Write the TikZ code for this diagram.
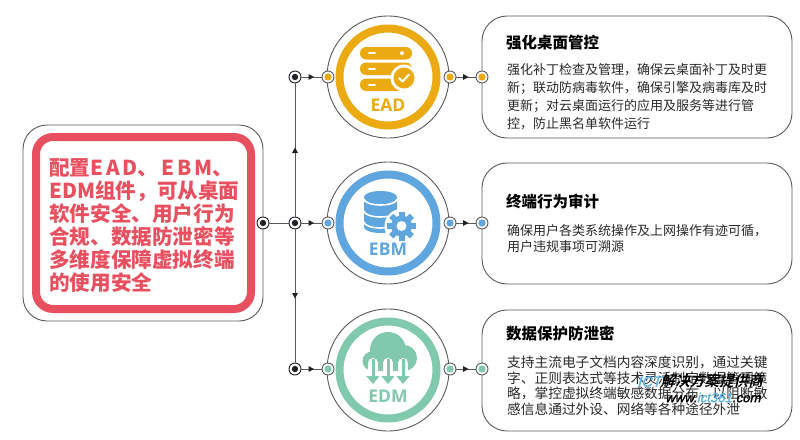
\documentclass[tikz,border=0pt]{standalone}
\usepackage{fontspec}
\setmainfont{Noto Sans CJK SC}
\newfontfamily\iconfont{Open Sans}
\newfontfamily\slantfont[FakeSlant=0.25,FakeBold=1.5]{Liberation Sans}
\newfontfamily\cjkslant[FakeSlant=0.25]{Noto Sans CJK SC Bold}
\usetikzlibrary{arrows.meta,decorations.markings}
\definecolor{outl}{HTML}{5A5A5E}
\definecolor{darkdot}{HTML}{222226}
\definecolor{bodytext}{HTML}{2A2A2A}
\definecolor{cred}{HTML}{E8505F}
\definecolor{cead}{HTML}{EBAA12}
\definecolor{cebm}{HTML}{5FA6DF}
\definecolor{cedm}{HTML}{80C9AD}
\definecolor{wmblue}{HTML}{5FB4E6}
\tikzset{
  x=1pt,y=-1pt,
  wire/.style={draw=outl,line width=0.9pt},
  midarrow/.style={wire,postaction={decorate},decoration={markings,mark=at position 0.5 with {\fill[darkdot] (2.5pt,0)--(-3pt,-3pt)--(-3pt,3pt)--cycle;}}},
  junction/.style={circle,draw=darkdot,line width=0.9pt,fill=white,minimum size=12pt,inner sep=0pt,
    path picture={\fill[darkdot] (path picture bounding box.center) circle (3.2pt);}},
  port/.style={circle,draw=outl,line width=0.9pt,fill=white,minimum size=12pt,inner sep=0pt,
    path picture={\fill[#1] (path picture bounding box.center) circle (3.6pt);}},
  badge/.style={circle,draw=outl,line width=0.9pt,fill=white,minimum size=122pt,inner sep=0pt},
  ring/.style={draw=#1,line width=8pt,fill=white},
  card/.style={draw=outl,line width=0.9pt,fill=white,rounded corners=25pt},
  cardtitle/.style={anchor=west,font=\fontsize{15.5}{18}\selectfont\bfseries,inner sep=0pt,text=black},
  cardbody/.style={anchor=north west,align=left,inner sep=0pt,text=bodytext},
  iconlabel/.style={font=\iconfont\fontsize{#1}{20}\selectfont\bfseries,inner sep=0pt},
}
\begin{document}
\begin{tikzpicture}
\useasboundingbox[fill=white] (0,0) rectangle (800,439);

% left panel
\draw[card,rounded corners=24pt] (23,125) rectangle (263,321);
\draw[draw=cred,line width=8pt,rounded corners=17pt,fill=white] (36,137) rectangle (251,309);
\node[anchor=north west,align=left,inner sep=0pt,text=cred,font=\fontsize{20.6}{22.9}\selectfont\bfseries] (lead) at (49,158.5)
 {配置E\hspace{3pt}A\hspace{3pt}D、\hspace{3pt}E\hspace{3pt}B\hspace{3pt}M、\\
  EDM组件，可从桌面\\软件安全、用户行为\\合规、数据防泄密等\\多维度保障虚拟终端\\的使用安全};

% cards
\draw[card] (482,16) rectangle (792,138);
\draw[card] (482,163) rectangle (792,284);
\draw[card] (482,310) rectangle (792,431);
\node[cardtitle] (t1) at (506,43) {强化桌面管控};
\node[cardtitle] (t2) at (506,202) {终端行为审计};
\node[cardtitle] (t3) at (506,334) {数据保护防泄密};
\node[cardbody,font=\fontsize{13}{18}\selectfont] (b1) at (507,63.5)
 {强化补丁检查及管理，确保云桌面补丁及时更\\新；联动防病毒软件，确保引擎及病毒库及时\\更新；对云桌面运行的应用及服务等进行管\\控，防止黑名单软件运行};
\node[cardbody,font=\fontsize{13}{16}\selectfont] (b2) at (507,224.5)
 {确保用户各类系统操作及上网操作有迹可循，\\用户违规事项可溯源};
\node[cardbody,font=\fontsize{13.7}{15.4}\selectfont] (b3) at (507,356)
 {支持主流电子文档内容深度识别，通过关键\\字、正则表达式等技术灵活制定数据管理策\\略，掌控虚拟终端敏感数据分布，以阻断敏\\感信息通过外设、网络等各种途径外泄};

% badges
\node[badge] (c1) at (388,77) {};
\node[badge] (c2) at (388,223) {};
\node[badge] (c3) at (388,370) {};
\draw[ring=cead] (c1.center) circle (48.5pt);
\draw[ring=cebm] (c2.center) circle (48.5pt);
\draw[ring=cedm] (c3.center) circle (48.5pt);

% EAD icon
\fill[cead,rounded corners=6pt] (360,47) rectangle (412,59.5);
\fill[cead,rounded corners=6pt] (360,62.5) rectangle (412,75);
\fill[cead,rounded corners=6pt] (360,78.5) rectangle (412,91);
\draw[white,line width=2pt,line cap=round] (369,53.2)--(375,53.2) (369,68.7)--(375,68.7) (369,84.7)--(375,84.7);
\fill[white] (402,53.2) circle (2pt);
\fill[white] (404,78) circle (13.5pt);
\fill[cead] (404,78) circle (10.5pt);
\draw[white,line width=2pt,line cap=round,line join=round] (399,78)--(402.5,81.5)--(409,74.5);
\node[iconlabel=17.5,text=cead] (lead1) at (388,105) {EAD};

% EBM icon
\fill[cebm] (364,197) -- (364,227) arc[start angle=180,end angle=360,x radius=16.5pt,y radius=6pt] -- (397,197) arc[start angle=0,end angle=180,x radius=16.5pt,y radius=6pt] -- cycle;
\draw[white,line width=1.6pt] (364,199) arc[start angle=180,end angle=360,x radius=16.5pt,y radius=6pt];
\draw[white,line width=1.6pt] (364,211) arc[start angle=180,end angle=360,x radius=16.5pt,y radius=6pt];
\draw[white,line width=1.6pt] (364,222) arc[start angle=180,end angle=360,x radius=16.5pt,y radius=6pt];
\fill[white] (401.5,226) circle (17pt);
\foreach \a in {0,45,...,315}{
  \fill[cebm,rotate around={\a:(401.5,226)}] (398.5,211.5) rectangle (404.5,218);
}
\fill[cebm] (401.5,226) circle (10.5pt);
\fill[white] (401.5,226) circle (5pt);
\node[iconlabel=17.5,text=cebm] (lead2) at (388,249) {EBM};

% EDM icon
\fill[cedm] (388,350) circle (18pt);
\fill[cedm] (372,361) circle (9.5pt);
\fill[cedm] (404,358) circle (13pt);
\fill[cedm] (372,358) rectangle (404,370.5);
\foreach \x in {373,388,403}{
  \draw[white,line width=10pt,line cap=round] (\x,363)--(\x,376);
  \fill[white] (\x-9,371) rectangle (\x+9,386);
  \draw[cedm,line width=3pt] (\x,359)--(\x,377);
  \fill[cedm] (\x-6.7,376)--(\x+6.7,376)--(\x,384)--cycle;
}
\node[iconlabel=17.5,text=cedm] (lead3) at (388,396) {EDM};

% junctions and ports
\node[junction] (j0) at (263,223) {};
\node[junction] (j1) at (295,77) {};
\node[junction] (j2) at (295,223) {};
\node[junction] (j3) at (295,369) {};
\node[port=cead] (a1) at (328,77) {};
\node[port=cead] (b1p) at (450,77) {};
\node[port=cead] (d1) at (482,77) {};
\node[port=cebm] (a2) at (328,223) {};
\node[port=cebm] (b2p) at (450,223) {};
\node[port=cebm] (d2) at (482,223) {};
\node[port=cedm] (a3) at (328,369) {};
\node[port=cedm] (b3p) at (450,369) {};
\node[port=cedm] (d3) at (482,369) {};

% connectors
\draw[wire] (j0)--(j2);
\draw[midarrow] (j2)--(j1);
\draw[midarrow] (j2)--(j3);
\draw[midarrow] (j1)--(a1);
\draw[midarrow] (j2)--(a2);
\draw[midarrow] (j3)--(a3);
\draw[midarrow] (b1p)--(d1);
\draw[midarrow] (b2p)--(d2);
\draw[midarrow] (b3p)--(d3);

% watermark
\node[anchor=west,inner sep=0pt,font=\fontsize{14.6}{17}\selectfont] (wm1) at (637,381)
 {{\slantfont\textcolor{wmblue}{ICT}}{\cjkslant\textcolor{black}{解决方案提供商}}};
\node[anchor=west,inner sep=0pt,font=\slantfont\fontsize{13.2}{15}\selectfont] (wm2) at (665,397.5)
 {www.\textcolor{wmblue}{ict361}.com};
\end{tikzpicture}
\end{document}
